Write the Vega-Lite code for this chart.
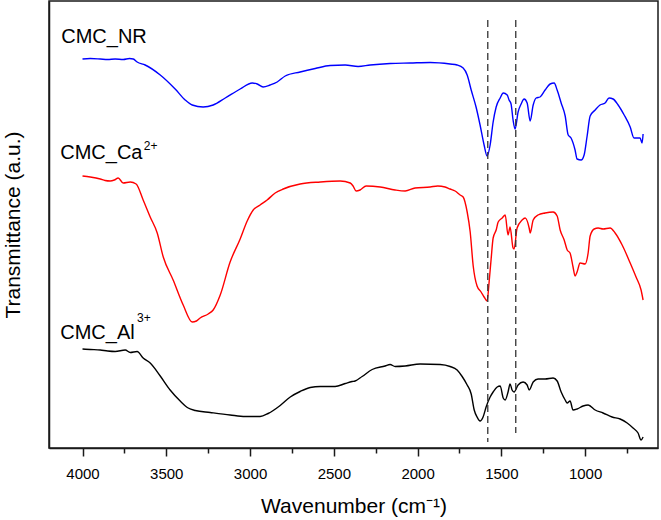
{
  "$schema": "https://vega.github.io/schema/vega-lite/v6.json",
  "width": 609,
  "height": 447,
  "autosize": {"type": "none"},
  "padding": {"left": 49, "top": 1, "right": 3, "bottom": 72},
  "background": "white",
  "config": {
    "view": {"stroke": "#1a1a1a", "strokeWidth": 1.5},
    "font": "Liberation Sans"
  },
  "datasets": {
    "spectra": [
      {"s": "NR", "w": 4000, "t": 389}, {"s": "NR", "w": 3954, "t": 389.5}, {"s": "NR", "w": 3894, "t": 389},
      {"s": "NR", "w": 3850, "t": 388.5}, {"s": "NR", "w": 3805, "t": 389}, {"s": "NR", "w": 3757, "t": 388.5},
      {"s": "NR", "w": 3720, "t": 389.5}, {"s": "NR", "w": 3697, "t": 389}, {"s": "NR", "w": 3674, "t": 386},
      {"s": "NR", "w": 3626, "t": 383}, {"s": "NR", "w": 3536, "t": 373}, {"s": "NR", "w": 3447, "t": 359},
      {"s": "NR", "w": 3387, "t": 348}, {"s": "NR", "w": 3345, "t": 343}, {"s": "NR", "w": 3280, "t": 341},
      {"s": "NR", "w": 3220, "t": 343}, {"s": "NR", "w": 3148, "t": 350}, {"s": "NR", "w": 3059, "t": 359},
      {"s": "NR", "w": 2987, "t": 365}, {"s": "NR", "w": 2957, "t": 364}, {"s": "NR", "w": 2922, "t": 361},
      {"s": "NR", "w": 2880, "t": 363}, {"s": "NR", "w": 2838, "t": 366}, {"s": "NR", "w": 2790, "t": 372},
      {"s": "NR", "w": 2701, "t": 376}, {"s": "NR", "w": 2611, "t": 379.5}, {"s": "NR", "w": 2522, "t": 382.5},
      {"s": "NR", "w": 2432, "t": 383}, {"s": "NR", "w": 2355, "t": 381.5}, {"s": "NR", "w": 2283, "t": 383},
      {"s": "NR", "w": 2164, "t": 384.5}, {"s": "NR", "w": 2044, "t": 385}, {"s": "NR", "w": 1925, "t": 385.5},
      {"s": "NR", "w": 1806, "t": 384}, {"s": "NR", "w": 1764, "t": 383}, {"s": "NR", "w": 1728, "t": 380},
      {"s": "NR", "w": 1704, "t": 373}, {"s": "NR", "w": 1680, "t": 358}, {"s": "NR", "w": 1651, "t": 341},
      {"s": "NR", "w": 1627, "t": 323}, {"s": "NR", "w": 1603, "t": 303}, {"s": "NR", "w": 1585, "t": 292},
      {"s": "NR", "w": 1567, "t": 303}, {"s": "NR", "w": 1549, "t": 326}, {"s": "NR", "w": 1531, "t": 341},
      {"s": "NR", "w": 1507, "t": 350}, {"s": "NR", "w": 1489, "t": 355}, {"s": "NR", "w": 1465, "t": 353},
      {"s": "NR", "w": 1454, "t": 348}, {"s": "NR", "w": 1442, "t": 344}, {"s": "NR", "w": 1430, "t": 328},
      {"s": "NR", "w": 1418, "t": 319}, {"s": "NR", "w": 1400, "t": 336}, {"s": "NR", "w": 1382, "t": 344},
      {"s": "NR", "w": 1364, "t": 349}, {"s": "NR", "w": 1346, "t": 345}, {"s": "NR", "w": 1328, "t": 327},
      {"s": "NR", "w": 1310, "t": 343}, {"s": "NR", "w": 1292, "t": 350}, {"s": "NR", "w": 1269, "t": 351},
      {"s": "NR", "w": 1239, "t": 358}, {"s": "NR", "w": 1209, "t": 364}, {"s": "NR", "w": 1185, "t": 365},
      {"s": "NR", "w": 1167, "t": 358}, {"s": "NR", "w": 1143, "t": 345}, {"s": "NR", "w": 1119, "t": 332},
      {"s": "NR", "w": 1101, "t": 313}, {"s": "NR", "w": 1084, "t": 310}, {"s": "NR", "w": 1060, "t": 298},
      {"s": "NR", "w": 1048, "t": 289}, {"s": "NR", "w": 1024, "t": 288}, {"s": "NR", "w": 1006, "t": 293},
      {"s": "NR", "w": 988, "t": 312}, {"s": "NR", "w": 970, "t": 332}, {"s": "NR", "w": 940, "t": 338},
      {"s": "NR", "w": 911, "t": 343}, {"s": "NR", "w": 881, "t": 345}, {"s": "NR", "w": 857, "t": 350},
      {"s": "NR", "w": 833, "t": 349}, {"s": "NR", "w": 803, "t": 343}, {"s": "NR", "w": 767, "t": 333},
      {"s": "NR", "w": 731, "t": 321}, {"s": "NR", "w": 708, "t": 310}, {"s": "NR", "w": 672, "t": 310},
      {"s": "NR", "w": 660, "t": 305}, {"s": "NR", "w": 654, "t": 314},

      {"s": "Ca", "w": 4000, "t": 272}, {"s": "Ca", "w": 3954, "t": 271}, {"s": "Ca", "w": 3894, "t": 269},
      {"s": "Ca", "w": 3865, "t": 267.5}, {"s": "Ca", "w": 3835, "t": 267}, {"s": "Ca", "w": 3810, "t": 268},
      {"s": "Ca", "w": 3787, "t": 270}, {"s": "Ca", "w": 3757, "t": 265}, {"s": "Ca", "w": 3715, "t": 266},
      {"s": "Ca", "w": 3680, "t": 264}, {"s": "Ca", "w": 3638, "t": 248}, {"s": "Ca", "w": 3596, "t": 231},
      {"s": "Ca", "w": 3554, "t": 215}, {"s": "Ca", "w": 3518, "t": 191}, {"s": "Ca", "w": 3459, "t": 168},
      {"s": "Ca", "w": 3399, "t": 143}, {"s": "Ca", "w": 3345, "t": 126}, {"s": "Ca", "w": 3320, "t": 127},
      {"s": "Ca", "w": 3298, "t": 130}, {"s": "Ca", "w": 3250, "t": 134}, {"s": "Ca", "w": 3220, "t": 138},
      {"s": "Ca", "w": 3178, "t": 153}, {"s": "Ca", "w": 3119, "t": 186}, {"s": "Ca", "w": 3059, "t": 209},
      {"s": "Ca", "w": 3017, "t": 227}, {"s": "Ca", "w": 2981, "t": 238}, {"s": "Ca", "w": 2940, "t": 243},
      {"s": "Ca", "w": 2898, "t": 248}, {"s": "Ca", "w": 2850, "t": 255}, {"s": "Ca", "w": 2802, "t": 259},
      {"s": "Ca", "w": 2701, "t": 264}, {"s": "Ca", "w": 2581, "t": 266}, {"s": "Ca", "w": 2462, "t": 267},
      {"s": "Ca", "w": 2402, "t": 265}, {"s": "Ca", "w": 2385, "t": 262}, {"s": "Ca", "w": 2367, "t": 257},
      {"s": "Ca", "w": 2343, "t": 258}, {"s": "Ca", "w": 2307, "t": 262}, {"s": "Ca", "w": 2223, "t": 261},
      {"s": "Ca", "w": 2134, "t": 258}, {"s": "Ca", "w": 2074, "t": 257}, {"s": "Ca", "w": 2015, "t": 260},
      {"s": "Ca", "w": 1925, "t": 261}, {"s": "Ca", "w": 1880, "t": 262}, {"s": "Ca", "w": 1836, "t": 261},
      {"s": "Ca", "w": 1806, "t": 259}, {"s": "Ca", "w": 1776, "t": 257}, {"s": "Ca", "w": 1746, "t": 253},
      {"s": "Ca", "w": 1728, "t": 251}, {"s": "Ca", "w": 1704, "t": 236}, {"s": "Ca", "w": 1686, "t": 216},
      {"s": "Ca", "w": 1668, "t": 182}, {"s": "Ca", "w": 1645, "t": 162}, {"s": "Ca", "w": 1621, "t": 156},
      {"s": "Ca", "w": 1603, "t": 151}, {"s": "Ca", "w": 1585, "t": 147}, {"s": "Ca", "w": 1573, "t": 166},
      {"s": "Ca", "w": 1561, "t": 189}, {"s": "Ca", "w": 1549, "t": 210}, {"s": "Ca", "w": 1531, "t": 218},
      {"s": "Ca", "w": 1519, "t": 226}, {"s": "Ca", "w": 1495, "t": 230}, {"s": "Ca", "w": 1477, "t": 233},
      {"s": "Ca", "w": 1460, "t": 213}, {"s": "Ca", "w": 1448, "t": 221}, {"s": "Ca", "w": 1430, "t": 200},
      {"s": "Ca", "w": 1424, "t": 199}, {"s": "Ca", "w": 1406, "t": 220}, {"s": "Ca", "w": 1376, "t": 228},
      {"s": "Ca", "w": 1358, "t": 230}, {"s": "Ca", "w": 1334, "t": 220}, {"s": "Ca", "w": 1328, "t": 215},
      {"s": "Ca", "w": 1310, "t": 228}, {"s": "Ca", "w": 1281, "t": 233}, {"s": "Ca", "w": 1239, "t": 235},
      {"s": "Ca", "w": 1191, "t": 236}, {"s": "Ca", "w": 1167, "t": 232}, {"s": "Ca", "w": 1149, "t": 218},
      {"s": "Ca", "w": 1125, "t": 208}, {"s": "Ca", "w": 1107, "t": 198}, {"s": "Ca", "w": 1090, "t": 195},
      {"s": "Ca", "w": 1072, "t": 181}, {"s": "Ca", "w": 1060, "t": 172}, {"s": "Ca", "w": 1048, "t": 176},
      {"s": "Ca", "w": 1030, "t": 185}, {"s": "Ca", "w": 1000, "t": 184}, {"s": "Ca", "w": 982, "t": 195},
      {"s": "Ca", "w": 970, "t": 212}, {"s": "Ca", "w": 946, "t": 219}, {"s": "Ca", "w": 922, "t": 220},
      {"s": "Ca", "w": 893, "t": 219}, {"s": "Ca", "w": 851, "t": 220}, {"s": "Ca", "w": 821, "t": 215},
      {"s": "Ca", "w": 779, "t": 203}, {"s": "Ca", "w": 731, "t": 185}, {"s": "Ca", "w": 696, "t": 171},
      {"s": "Ca", "w": 666, "t": 158}, {"s": "Ca", "w": 654, "t": 148},

      {"s": "Al", "w": 4000, "t": 99}, {"s": "Al", "w": 3954, "t": 98.5}, {"s": "Al", "w": 3894, "t": 98},
      {"s": "Al", "w": 3850, "t": 97}, {"s": "Al", "w": 3805, "t": 96.5}, {"s": "Al", "w": 3745, "t": 98},
      {"s": "Al", "w": 3715, "t": 95.5}, {"s": "Al", "w": 3674, "t": 96.5}, {"s": "Al", "w": 3638, "t": 90},
      {"s": "Al", "w": 3596, "t": 85}, {"s": "Al", "w": 3536, "t": 72}, {"s": "Al", "w": 3477, "t": 58},
      {"s": "Al", "w": 3417, "t": 47}, {"s": "Al", "w": 3369, "t": 40}, {"s": "Al", "w": 3327, "t": 37.5},
      {"s": "Al", "w": 3238, "t": 35.5}, {"s": "Al", "w": 3119, "t": 33}, {"s": "Al", "w": 3029, "t": 31.5},
      {"s": "Al", "w": 2940, "t": 31.5}, {"s": "Al", "w": 2892, "t": 34.5}, {"s": "Al", "w": 2820, "t": 42.5},
      {"s": "Al", "w": 2760, "t": 51}, {"s": "Al", "w": 2701, "t": 56.5}, {"s": "Al", "w": 2641, "t": 60.5},
      {"s": "Al", "w": 2581, "t": 61.5}, {"s": "Al", "w": 2492, "t": 61.5}, {"s": "Al", "w": 2432, "t": 64.5},
      {"s": "Al", "w": 2391, "t": 66.5}, {"s": "Al", "w": 2373, "t": 67}, {"s": "Al", "w": 2331, "t": 71.5},
      {"s": "Al", "w": 2271, "t": 78.5}, {"s": "Al", "w": 2194, "t": 82}, {"s": "Al", "w": 2164, "t": 83.5},
      {"s": "Al", "w": 2134, "t": 81.5}, {"s": "Al", "w": 2074, "t": 82}, {"s": "Al", "w": 1985, "t": 84},
      {"s": "Al", "w": 1865, "t": 83.5}, {"s": "Al", "w": 1806, "t": 81.5}, {"s": "Al", "w": 1764, "t": 78},
      {"s": "Al", "w": 1734, "t": 71.5}, {"s": "Al", "w": 1704, "t": 63}, {"s": "Al", "w": 1680, "t": 54},
      {"s": "Al", "w": 1662, "t": 38}, {"s": "Al", "w": 1645, "t": 31}, {"s": "Al", "w": 1627, "t": 27},
      {"s": "Al", "w": 1609, "t": 31}, {"s": "Al", "w": 1591, "t": 41}, {"s": "Al", "w": 1567, "t": 51},
      {"s": "Al", "w": 1549, "t": 56}, {"s": "Al", "w": 1525, "t": 61}, {"s": "Al", "w": 1507, "t": 62},
      {"s": "Al", "w": 1489, "t": 50}, {"s": "Al", "w": 1477, "t": 48}, {"s": "Al", "w": 1460, "t": 56},
      {"s": "Al", "w": 1448, "t": 64}, {"s": "Al", "w": 1436, "t": 58}, {"s": "Al", "w": 1424, "t": 56},
      {"s": "Al", "w": 1400, "t": 63}, {"s": "Al", "w": 1370, "t": 66}, {"s": "Al", "w": 1346, "t": 63},
      {"s": "Al", "w": 1334, "t": 58}, {"s": "Al", "w": 1310, "t": 66}, {"s": "Al", "w": 1281, "t": 69},
      {"s": "Al", "w": 1239, "t": 69}, {"s": "Al", "w": 1191, "t": 70}, {"s": "Al", "w": 1167, "t": 67},
      {"s": "Al", "w": 1143, "t": 56}, {"s": "Al", "w": 1119, "t": 48}, {"s": "Al", "w": 1107, "t": 45},
      {"s": "Al", "w": 1090, "t": 47}, {"s": "Al", "w": 1072, "t": 38}, {"s": "Al", "w": 1048, "t": 39},
      {"s": "Al", "w": 1012, "t": 42}, {"s": "Al", "w": 982, "t": 43}, {"s": "Al", "w": 940, "t": 38},
      {"s": "Al", "w": 893, "t": 35}, {"s": "Al", "w": 839, "t": 31}, {"s": "Al", "w": 791, "t": 29},
      {"s": "Al", "w": 749, "t": 25}, {"s": "Al", "w": 714, "t": 20}, {"s": "Al", "w": 684, "t": 15},
      {"s": "Al", "w": 666, "t": 8}, {"s": "Al", "w": 654, "t": 11}
    ],
    "markers": [
      {"w": 1581, "top": 428, "bottom": 6},
      {"w": 1414, "top": 428, "bottom": 15}
    ],
    "names": [
      {"txt": "CMC_NR", "w": 4127, "t": 404.7},
      {"txt": "CMC_Ca", "w": 4133, "t": 288.7},
      {"txt": "CMC_Al", "w": 4133, "t": 108.7}
    ],
    "charges": [
      {"txt": "2+", "w": 3634, "t": 298},
      {"txt": "3+", "w": 3674, "t": 126}
    ]
  },
  "layer": [
    {
      "data": {"name": "spectra"},
      "mark": {"type": "line", "strokeWidth": 1.4, "interpolate": "monotone"},
      "encoding": {
        "x": {
          "field": "w",
          "type": "quantitative",
          "title": "Wavenumber (cm⁻¹)",
          "scale": {"domain": [565, 4200], "reverse": true, "nice": false, "zero": false},
          "axis": {
            "values": [4000, 3750, 3500, 3250, 3000, 2750, 2500, 2250, 2000, 1750, 1500, 1250, 1000, 750],
            "format": "d",
            "labelExpr": "datum.value % 500 === 0 ? datum.label : ''",
            "tickSize": {"condition": {"test": "datum.value % 500 === 0", "value": 8}, "value": 5},
            "tickColor": "#1a1a1a",
            "tickWidth": 1.5,
            "domainColor": "#1a1a1a",
            "domainWidth": 1.5,
            "grid": false,
            "labelFontSize": 15,
            "labelColor": "black",
            "labelPadding": 10,
            "labelFlush": false,
            "labelOverlap": false,
            "titleFontSize": 21,
            "titleFontWeight": "normal",
            "titleColor": "black",
            "titlePadding": 14
          }
        },
        "y": {
          "field": "t",
          "type": "quantitative",
          "title": "Transmittance (a.u.)",
          "scale": {"domain": [0, 447], "nice": false, "zero": false},
          "axis": {
            "labels": false,
            "ticks": false,
            "grid": false,
            "domainColor": "#1a1a1a",
            "domainWidth": 1.5,
            "titleFontSize": 21,
            "titleFontWeight": "normal",
            "titleColor": "black",
            "titlePadding": 26
          }
        },
        "color": {
          "field": "s",
          "type": "nominal",
          "scale": {"domain": ["NR", "Ca", "Al"], "range": ["#0000ff", "#ff0000", "#000000"]},
          "legend": null
        }
      }
    },
    {
      "data": {"name": "markers"},
      "mark": {"type": "rule", "strokeDash": [7, 4], "color": "#333333", "strokeWidth": 1.3},
      "encoding": {
        "x": {"field": "w", "type": "quantitative", "title": "Wavenumber (cm⁻¹)"},
        "y": {"field": "top", "type": "quantitative", "title": "Transmittance (a.u.)"},
        "y2": {"field": "bottom"}
      }
    },
    {
      "data": {"name": "names"},
      "mark": {"type": "text", "align": "left", "baseline": "alphabetic", "fontSize": 20, "font": "Liberation Sans", "color": "black"},
      "encoding": {
        "x": {"field": "w", "type": "quantitative", "title": "Wavenumber (cm⁻¹)"},
        "y": {"field": "t", "type": "quantitative", "title": "Transmittance (a.u.)"},
        "text": {"field": "txt"}
      }
    },
    {
      "data": {"name": "charges"},
      "mark": {"type": "text", "align": "left", "baseline": "alphabetic", "fontSize": 12, "font": "Liberation Sans", "color": "black"},
      "encoding": {
        "x": {"field": "w", "type": "quantitative", "title": "Wavenumber (cm⁻¹)"},
        "y": {"field": "t", "type": "quantitative", "title": "Transmittance (a.u.)"},
        "text": {"field": "txt"}
      }
    }
  ]
}
